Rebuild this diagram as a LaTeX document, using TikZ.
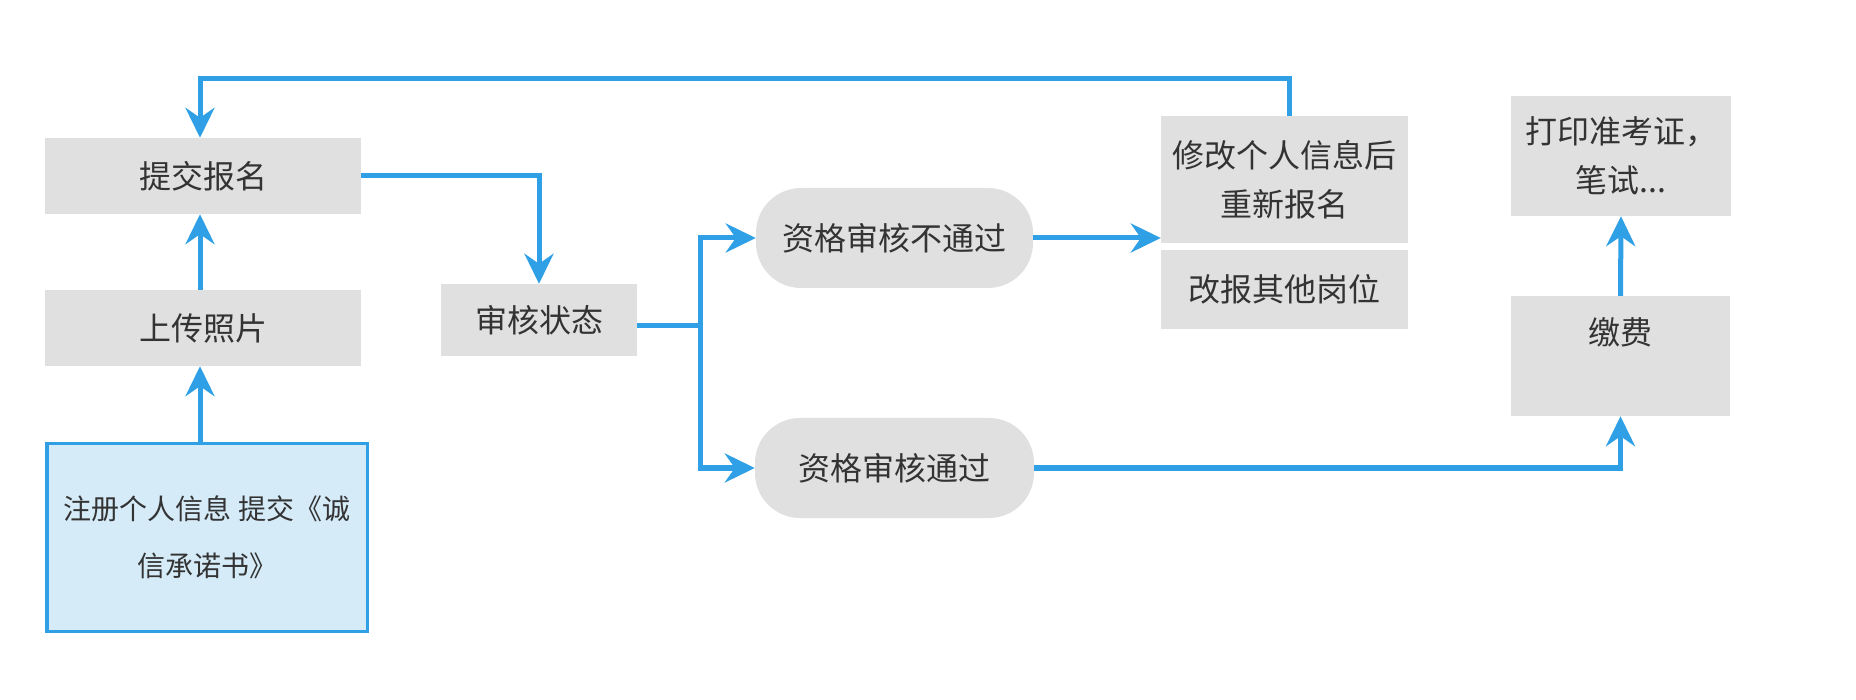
\documentclass[tikz,border=0pt]{standalone}
\usepackage{fontspec}
\setmainfont{Noto Sans CJK SC}
\usetikzlibrary{arrows.meta}
\definecolor{lnblue}{HTML}{30A0E6}
\definecolor{boxgray}{HTML}{E0E0E0}
\definecolor{regfill}{HTML}{D5EBF8}
\definecolor{txt}{HTML}{333333}
\begin{document}
\begin{tikzpicture}[x=1pt,y=-1pt,
  box/.style={fill=boxgray, inner sep=0pt, align=center, text=txt, font=\fontsize{32}{49}\selectfont},
  pill/.style={box, rounded corners=45pt},
  regbox/.style={fill=regfill, draw=lnblue, line width=3.5pt, inner sep=0pt, align=center, text=txt, font=\fontsize{28}{57}\selectfont},
  conn/.style={draw=lnblue, line width=5pt},
  flow/.style={conn, -{Stealth[length=30pt,width=29pt,inset=10pt]}}
]
\useasboundingbox (0,0) rectangle (1856,700);
\node[box, minimum width=316pt, minimum height=76pt] (submit) at (203,176) {提交报名};
\node[box, minimum width=316pt, minimum height=76pt] (upload) at (203,328) {上传照片};
\node[regbox, minimum width=320.5pt, minimum height=187.5pt] (reg) at (207,537.5) {注册个人信息 提交《诚\\信承诺书》};
\node[box, minimum width=196pt, minimum height=72pt] (status) at (539,320) {审核状态};
\node[pill, minimum width=277pt, minimum height=100pt] (fail) at (894.5,238) {资格审核不通过};
\node[pill, minimum width=279pt, minimum height=100pt] (pass) at (894.5,468) {资格审核通过};
\node[box, minimum width=247pt, minimum height=127pt] (modify) at (1284.5,179.5) {修改个人信息后\\重新报名};
\node[box, minimum width=247pt, minimum height=79pt] (other) at (1284.5,289.5) {改报其他岗位};
\node[box, minimum width=220pt, minimum height=120pt] (print) at (1621,156) {打印准考证，\\笔试...};
\node[box, minimum width=219pt, minimum height=120pt] (pay) at (1620.5,356) {缴费\\\mbox{}};
\coordinate (trunk) at (700,326);
\coordinate (lcol) at (200,79);
\coordinate (rcol) at (1289,79);
\draw[flow] (lcol |- reg.north) -- (lcol |- upload.south);
\draw[flow] (lcol |- upload.north) -- (lcol |- submit.south);
\draw[flow] (submit.east) -| (status.north);
\draw[conn] (status.east |- trunk) -- (trunk);
\draw[flow] (trunk) |- (fail.west);
\draw[flow] (trunk) |- (pass.west);
\draw[flow] (fail.east) -- (fail.east -| modify.west);
\draw[flow] (rcol |- modify.north) -- (rcol) -- (lcol) -- (lcol |- submit.north);
\draw[flow] (pass.east) -| (pay.south);
\draw[flow] (pay.north) -- (print.south);
\end{tikzpicture}
\end{document}
